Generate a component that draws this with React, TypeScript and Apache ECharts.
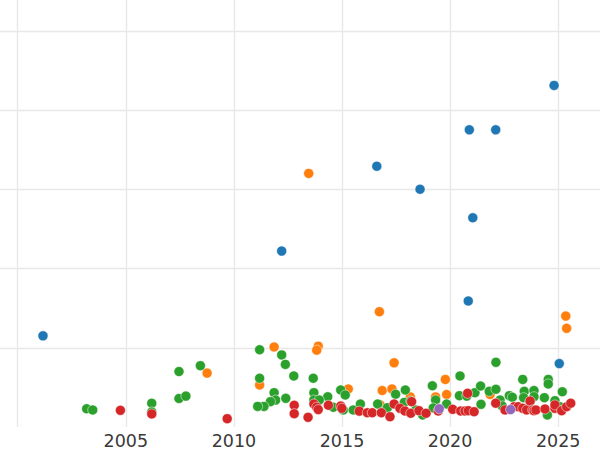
import React, { useEffect, useRef } from "react";
import * as echarts from "echarts";

const xTicks = [1995, 2000, 2005, 2010, 2015, 2020, 2025, 2030];
const xLabelsShown = [2005, 2010, 2015, 2020, 2025];

const blueData: [number, number][] = [
  [2001.17, 1.15], [2012.21, 2.22], [2016.61, 3.29], [2018.61, 3.0], [2020.89, 3.75],
  [2022.11, 3.75], [2024.81, 4.31], [2021.05, 2.64], [2020.84, 1.59], [2025.05, 0.8],
];

const orangeData: [number, number][] = [
  [2013.46, 3.2], [2016.73, 1.455], [2025.35, 1.4], [2025.39, 1.245], [2013.9, 1.02],
  [2013.83, 0.97], [2011.86, 1.01], [2008.76, 0.68], [2011.19, 0.53], [2017.41, 0.81],
  [2019.78, 0.6], [2015.29, 0.48], [2016.86, 0.46], [2017.31, 0.48], [2019.84, 0.41],
  [2019.33, 0.38], [2018.16, 0.38], [2016.76, 0.28], [2021.85, 0.41],
];

const greenData: [number, number][] = [
  [2003.19, 0.23], [2003.47, 0.215], [2006.2, 0.3], [2006.2, 0.19], [2007.46, 0.7],
  [2007.46, 0.36], [2007.78, 0.39], [2008.45, 0.774], [2011.19, 0.975], [2011.19, 0.615],
  [2012.21, 0.91], [2012.38, 0.79], [2012.77, 0.644], [2011.86, 0.433], [2011.93, 0.34],
  [2011.69, 0.32], [2011.39, 0.26], [2011.1, 0.26], [2012.4, 0.362], [2013.67, 0.615],
  [2013.7, 0.433], [2013.7, 0.34], [2014.34, 0.382], [2013.95, 0.34], [2014.94, 0.467],
  [2015.15, 0.404], [2014.6, 0.249], [2015.06, 0.215], [2015.52, 0.215], [2015.85, 0.29],
  [2016.65, 0.29], [2017.1, 0.244], [2017.48, 0.413], [2017.93, 0.467], [2017.88, 0.31],
  [2018.18, 0.328], [2018.42, 0.215], [2018.73, 0.151], [2019.18, 0.52], [2019.33, 0.34],
  [2019.84, 0.29], [2019.22, 0.24], [2020.46, 0.644], [2020.43, 0.395], [2020.77, 0.39],
  [2021.15, 0.433], [2021.41, 0.517], [2021.43, 0.286], [2021.81, 0.45], [2022.12, 0.816],
  [2022.12, 0.476], [2022.31, 0.34], [2022.41, 0.265], [2022.74, 0.395], [2022.88, 0.375],
  [2023.36, 0.6], [2023.43, 0.45], [2023.4, 0.37], [2023.88, 0.46], [2023.88, 0.382],
  [2023.7, 0.32], [2024.36, 0.37], [2024.54, 0.6], [2024.54, 0.543], [2024.5, 0.151],
  [2024.85, 0.332], [2025.19, 0.445], [2025.08, 0.256],
];

const redData: [number, number][] = [
  [2004.75, 0.21], [2006.2, 0.165], [2009.69, 0.105], [2012.79, 0.274], [2012.79, 0.168],
  [2013.43, 0.122], [2013.7, 0.29], [2013.83, 0.25], [2013.9, 0.22], [2014.37, 0.274],
  [2014.94, 0.265], [2014.99, 0.236], [2015.8, 0.2], [2016.17, 0.18], [2016.4, 0.18],
  [2016.82, 0.18], [2017.22, 0.13], [2017.41, 0.29], [2017.68, 0.236], [2017.91, 0.202],
  [2018.18, 0.173], [2018.22, 0.32], [2018.56, 0.206], [2018.89, 0.173], [2019.45, 0.202],
  [2020.12, 0.223], [2020.49, 0.202], [2020.69, 0.202], [2020.84, 0.206], [2021.11, 0.193],
  [2020.81, 0.425], [2022.11, 0.3], [2022.54, 0.215], [2022.96, 0.256], [2023.15, 0.256],
  [2023.36, 0.236], [2023.54, 0.215], [2023.7, 0.328], [2023.82, 0.215], [2023.88, 0.206],
  [2023.97, 0.215], [2024.39, 0.227], [2024.85, 0.236], [2024.85, 0.278], [2025.16, 0.206],
  [2025.39, 0.256], [2025.58, 0.3],
];

const purpleData: [number, number][] = [
  [2019.5, 0.23], [2022.8, 0.22],
];

const seriesDefs = [
  { name: "blue", color: "#1f77b4", data: blueData },
  { name: "orange", color: "#ff7f0e", data: orangeData },
  { name: "green", color: "#2ca02c", data: greenData },
  { name: "red", color: "#d62728", data: redData },
  { name: "purple", color: "#9467bd", data: purpleData },
];

export default function App() {
  const ref = useRef<HTMLDivElement>(null);
  useEffect(() => {
    if (!ref.current) return;
    const chart = echarts.init(ref.current, undefined, { renderer: "svg" });
    chart.setOption({
      animation: false,
      backgroundColor: "#ffffff",
      grid: {
        left: -90.4,
        right: -66.3,
        top: -48.5,
        bottom: 23,
        containLabel: false,
        outerBoundsMode: "none",
      },
      xAxis: {
        type: "value",
        min: xTicks[0],
        max: xTicks[xTicks.length - 1],
        interval: 5,
        axisLine: { show: false },
        axisTick: { show: false },
        axisLabel: {
          show: true,
          margin: 5,
          fontFamily: "DejaVu Sans",
          fontSize: 17.5,
          color: "#3a3a3a",
          formatter: (v: number) => (xLabelsShown.indexOf(v) >= 0 ? String(v) : ""),
        },
        splitLine: { show: true, lineStyle: { color: "#e8e8e8", width: 1.4 } },
      },
      yAxis: {
        type: "value",
        min: 0,
        max: 6,
        interval: 1,
        axisLine: { show: false },
        axisTick: { show: false },
        axisLabel: { show: false },
        splitLine: { show: true, showMinLine: false, lineStyle: { color: "#e8e8e8", width: 1.3 } },
      },
      series: seriesDefs.map((s) => ({
        name: s.name,
        type: "scatter",
        data: s.data,
        symbol: "circle",
        symbolSize: 10,
        itemStyle: { color: s.color, opacity: 1, borderColor: "#ffffff", borderWidth: 0.5 },
        emphasis: { disabled: true },
      })),
    });
    return () => chart.dispose();
  }, []);
  return <div ref={ref} style={{ width: 600, height: 450, position: "absolute", left: 0, top: 0 }} />;
}
